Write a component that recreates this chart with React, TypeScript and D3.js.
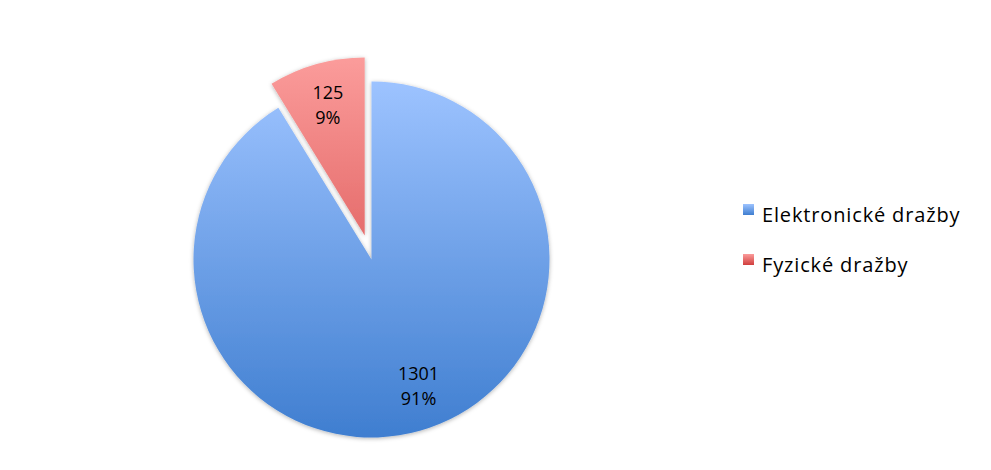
import React from "react";
import * as d3 from "d3";

const categories = ["Elektronické dražby", "Fyzické dražby"];
const values = [1301, 125];
const percentLabels = ["91%", "9%"];
const exploded = [false, true];

const W = 991;
const H = 470;
const cx = 371.5;
const cy = 259.5;
const R = 178;
const explodeDist = 25;

const gradients = [
  { id: "gBlue", top: "#9dc3ff", bottom: "#3f7ed0" },
  { id: "gRed", top: "#fb9c9b", bottom: "#d03e3d" },
];

export default function App() {
  const pie = d3
    .pie<number>()
    .sort(null)
    .value((d) => d)
    .startAngle(0)
    .endAngle(2 * Math.PI);
  const arcs = pie(values);
  const arc = d3.arc<d3.PieArcDatum<number>>().innerRadius(0).outerRadius(R);
  const fontFamily = "'Open Sans', Lato, sans-serif";

  return (
    <svg
      width={W}
      height={H}
      style={{ position: "absolute", left: 0, top: 0, background: "#fff" }}
    >
      <defs>
        {gradients.map((g) => (
          <linearGradient
            key={g.id}
            id={g.id}
            gradientUnits="userSpaceOnUse"
            x1={0}
            y1={-R}
            x2={0}
            y2={R}
          >
            <stop offset="0%" stopColor={g.top} />
            <stop offset="100%" stopColor={g.bottom} />
          </linearGradient>
        ))}
        {gradients.map((g) => (
          <linearGradient key={g.id + "L"} id={g.id + "L"} x1="0" y1="0" x2="0" y2="1">
            <stop offset="0%" stopColor={g.top} />
            <stop offset="100%" stopColor={g.bottom} />
          </linearGradient>
        ))}
        <filter id="shadow" x="-20%" y="-20%" width="140%" height="140%">
          <feDropShadow dx="0" dy="1" stdDeviation="2" floodColor="#000" floodOpacity="0.3" />
        </filter>
      </defs>
      {arcs.map((a, i) => {
        const mid = (a.startAngle + a.endAngle) / 2;
        const off = exploded[i] ? explodeDist : 0;
        const ox = cx + Math.sin(mid) * off;
        const oy = cy - Math.cos(mid) * off;
        return (
          <g key={i} transform={`translate(${ox},${oy})`}>
            <path d={arc(a) || ""} fill={`url(#${gradients[i].id})`} filter="url(#shadow)" />
          </g>
        );
      })}
      {arcs.map((a, i) => {
        const mid = (a.startAngle + a.endAngle) / 2 - (exploded[i] ? 0 : 0.08);
        const off = exploded[i] ? explodeDist : 0;
        const lr = R * 0.76;
        const lx = cx + Math.sin(mid) * (off + lr);
        const ly = cy - Math.cos(mid) * (off + lr);
        return (
          <text
            key={"l" + i}
            x={lx}
            textAnchor="middle"
            fontFamily={fontFamily}
            fontSize={18}
            fill="#000"
          >
            <tspan x={lx} y={ly - 6.5}>{values[i]}</tspan>
            <tspan x={lx} y={ly + 18.5}>{percentLabels[i]}</tspan>
          </text>
        );
      })}
      {categories.map((c, i) => (
        <g key={"leg" + i} transform={`translate(743,${204 + i * 50})`}>
          <rect width={11} height={11} fill={`url(#${gradients[i].id}L)`} />
          <text
            x={19}
            y={17.5}
            fontFamily={fontFamily}
            fontSize={20}
            letterSpacing={0.85}
            fill="#000"
          >
            {c}
          </text>
        </g>
      ))}
    </svg>
  );
}
